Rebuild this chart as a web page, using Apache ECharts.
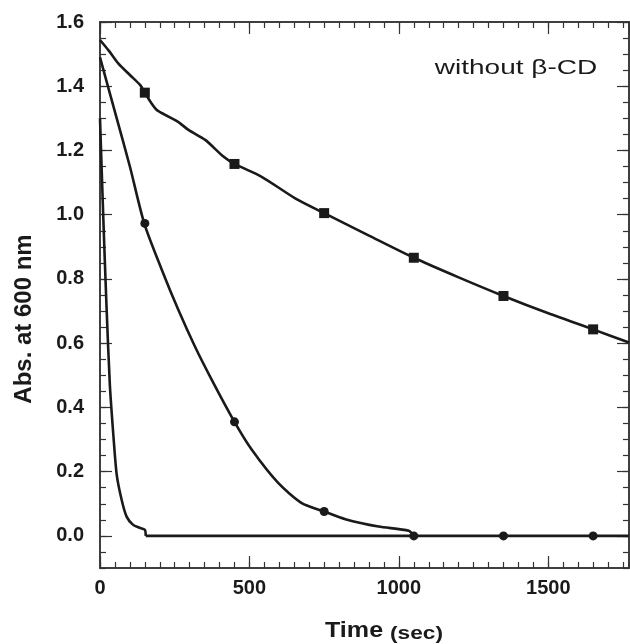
<!DOCTYPE html>
<html>
<head>
<meta charset="utf-8">
<script src="https://cdn.jsdelivr.net/npm/echarts@6/dist/echarts.min.js"></script>
<style>html,body{margin:0;padding:0;background:#fff;}#c{width:630px;height:644px;}</style>
</head>
<body>
<div id="c"></div>
<script>
// ---- data ----
const sqTime = [0, 30, 61, 100, 134, 150, 170, 190, 218, 260, 296, 352, 413, 450, 541, 653, 750, 900, 1050, 1200, 1350, 1500, 1650, 1770];
const sqAbs  = [1.544, 1.51, 1.471, 1.435, 1.404, 1.38, 1.35, 1.326, 1.311, 1.29, 1.264, 1.233, 1.181, 1.158, 1.118, 1.051, 1.005, 0.935, 0.866, 0.805, 0.747, 0.693, 0.643, 0.602];

const ciTime = [0, 50, 100, 148, 207, 262, 318, 374, 450, 508, 597, 675, 750, 821, 932, 1033, 1050];
const ciAbs  = [1.49, 1.32, 1.15, 0.973, 0.828, 0.704, 0.589, 0.486, 0.355, 0.268, 0.164, 0.102, 0.076, 0.052, 0.029, 0.016, 0.0];

const stTime = [0, 11, 22, 33, 45, 56, 73, 89, 110, 130, 150, 153];
const stAbs  = [1.30, 0.99, 0.71, 0.47, 0.31, 0.19, 0.11, 0.06, 0.035, 0.026, 0.019, 0.0];

const baseTime = [153, 1770];
const baseAbs  = [0.0, 0.0];

const markTime   = [150, 450, 750, 1050, 1350, 1650];
const markSquare = [1.38, 1.158, 1.005, 0.866, 0.747, 0.643];
const markCircle = [0.973, 0.355, 0.076, 0.0, 0.0, 0.0];

const yTickValues = [0, 0.2, 0.4, 0.6, 0.8, 1.0, 1.2, 1.4, 1.6];
const xTickValues = [0, 500, 1000, 1500];
const annotation = 'without \u03B2-CD';
const yTitle = 'Abs. at 600 nm';
const xTitleMain = 'Time';
const xTitleUnit = '(sec)';

// ---- chart ----
const XMIN = 0, XMAX = 1770, YMIN = -0.1, YMAX = 1.6;
const ink = '#1a1a1a';
const axisCol = '#333';
const FONT = "'Liberation Sans', Arial, Helvetica, sans-serif";
const zip = (a, b) => a.map((v, i) => [v, b[i]]);

const gridRect = {left: 100, right: 1, top: 22, bottom: 76};
const lineSt = {color: axisCol, width: 1.5};

function xAx(grid, pos, interval, len, labels) {
  return {
    type: 'value', gridIndex: grid, position: pos, min: XMIN, max: XMAX, interval: interval,
    axisLine: {show: true, onZero: false, lineStyle: lineSt},
    axisTick: {show: true, inside: true, length: len, lineStyle: {color: axisCol, width: 1.2}},
    axisLabel: labels ? {
      show: true, fontSize: 20, fontWeight: 'bold', color: ink, fontFamily: FONT, margin: 10,
      showMaxLabel: false,
      formatter: v => (xTickValues.indexOf(v) >= 0 ? String(v) : '')
    } : {show: false},
    splitLine: {show: false}
  };
}
function yAx(grid, pos, minor, labels) {
  const o = {
    type: 'value', gridIndex: grid, position: pos, min: YMIN, max: YMAX,
    axisLine: {show: true, onZero: false, lineStyle: lineSt},
    splitLine: {show: false}
  };
  if (minor) {
    o.interval = 0.05;
    o.axisTick = {show: true, inside: true, length: 6, lineStyle: {color: axisCol, width: 1.2}};
    o.axisLabel = {show: false};
  } else {
    o.splitNumber = 8; o.minInterval = 0.2; o.maxInterval = 0.2;
    o.axisTick = {show: true, inside: true, length: 12, customValues: yTickValues, lineStyle: {color: axisCol, width: 1.2}};
    o.axisLabel = labels ? {
      show: true, customValues: yTickValues,
      fontSize: 20, fontWeight: 'bold', color: ink, fontFamily: FONT, margin: 16,
      formatter: v => (v < -0.01 ? '' : Number(v).toFixed(1))
    } : {show: false};
  }
  return o;
}

const curve = (t, a) => ({
  type: 'line', xAxisIndex: 0, yAxisIndex: 0, data: zip(t, a), showSymbol: false,
  smooth: 0.25, lineStyle: {color: ink, width: 2.6}
});

const chart = echarts.init(document.getElementById('c'), null, {renderer: 'canvas'});
chart.setOption({
  animation: false,
  backgroundColor: '#fff',
  grid: [Object.assign({}, gridRect), Object.assign({}, gridRect)],
  xAxis: [
    xAx(0, 'bottom', 500, 12, true),
    xAx(0, 'top', 500, 12, false),
    xAx(1, 'bottom', 50, 6, false),
    xAx(1, 'top', 50, 6, false)
  ],
  yAxis: [
    yAx(0, 'left', false, true),
    yAx(0, 'right', false, false),
    yAx(1, 'left', true, false),
    yAx(1, 'right', true, false)
  ],
  series: [
    curve(sqTime, sqAbs),
    curve(ciTime, ciAbs),
    curve(stTime, stAbs),
    Object.assign(curve(baseTime, baseAbs), {smooth: false}),
    {type: 'scatter', xAxisIndex: 0, yAxisIndex: 0, data: zip(markTime, markSquare), symbol: 'rect',
     symbolSize: 10, itemStyle: {color: ink, opacity: 1}, z: 5},
    {type: 'scatter', xAxisIndex: 0, yAxisIndex: 0, data: zip(markTime, markCircle), symbol: 'circle',
     symbolSize: 9, itemStyle: {color: ink, opacity: 1}, z: 5}
  ],
  graphic: [
    {type: 'text', x: 516, y: 68, scaleX: 1.4, z: 10,
     style: {text: annotation, x: 0, y: 0, align: 'center', verticalAlign: 'middle',
             font: "20px 'Liberation Sans', Arial, sans-serif", fill: ink}},
    {type: 'text', x: 24, y: 319, rotation: Math.PI / 2, z: 10,
     style: {text: yTitle, x: 0, y: 0, align: 'center', verticalAlign: 'middle',
             font: "bold 24px 'Liberation Sans', Arial, sans-serif", fill: ink}},
    {type: 'text', x: 325, y: 631, scaleX: 1.14, z: 10,
     style: {text: xTitleMain, x: 0, y: 0, align: 'left', verticalAlign: 'middle',
             font: "bold 22px 'Liberation Sans', Arial, sans-serif", fill: ink}},
    {type: 'text', x: 390, y: 634, scaleX: 1.26, z: 10,
     style: {text: xTitleUnit, x: 0, y: 0, align: 'left', verticalAlign: 'middle',
             font: "bold 18px 'Liberation Sans', Arial, sans-serif", fill: ink}}
  ]
});
</script>
</body>
</html>
